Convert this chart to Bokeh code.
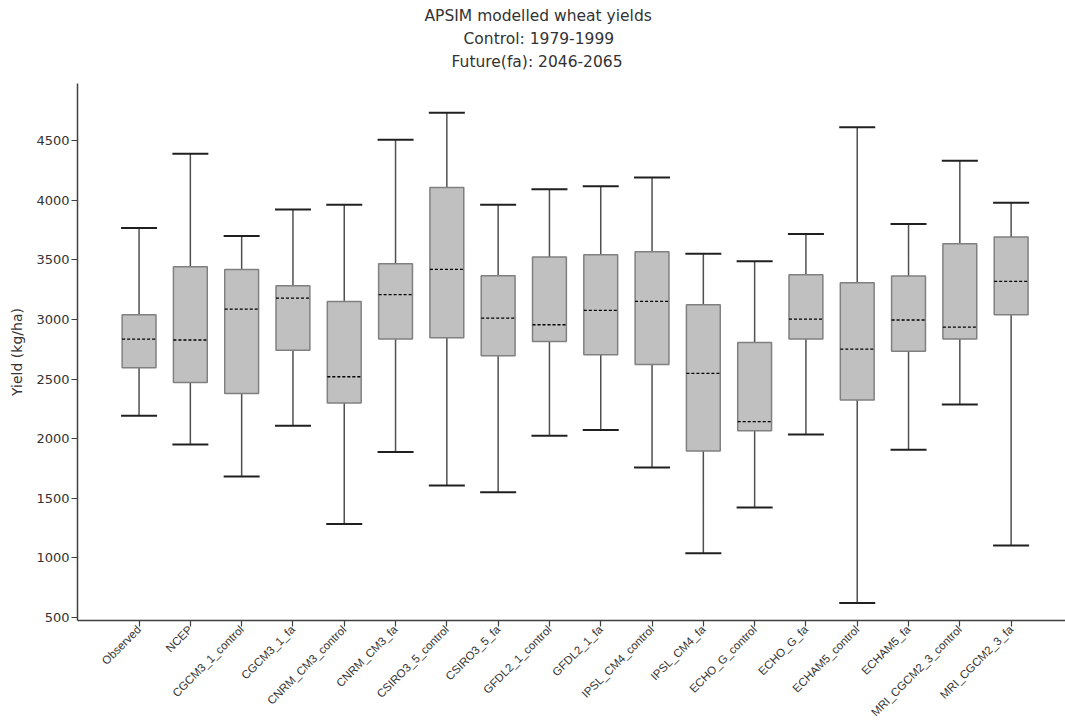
import math
from bokeh.plotting import figure
from bokeh.models import FixedTicker, Title, Range1d
from bokeh.embed import file_html
from bokeh.resources import INLINE

categories = ["Observed", "NCEP", "CGCM3_1_control", "CGCM3_1_fa", "CNRM_CM3_control",
              "CNRM_CM3_fa", "CSIRO3_5_control", "CSIRO3_5_fa", "GFDL2_1_control",
              "GFDL2_1_fa", "IPSL_CM4_control", "IPSL_CM4_fa", "ECHO_G_control",
              "ECHO_G_fa", "ECHAM5_control", "ECHAM5_fa", "MRI_CGCM2_3_control",
              "MRI_CGCM2_3_fa"]
maxs = [3768, 4391, 3700, 3924, 3963, 4508, 4735, 3963, 4092, 4117, 4192, 3552,
        3488, 3717, 4612, 3801, 4332, 3980]
q3s = [3040, 3443, 3420, 3284, 3152, 3468, 4108, 3367, 3524, 3544, 3569, 3124,
       2808, 3376, 3309, 3365, 3636, 3692]
medians = [2836, 2828, 3088, 3180, 2520, 3208, 3420, 3012, 2956, 3077, 3152, 2548,
           2143, 3004, 2752, 2996, 2937, 3320]
q1s = [2596, 2472, 2380, 2742, 2299, 2836, 2846, 2695, 2816, 2705, 2622, 1897,
       2067, 2836, 2325, 2733, 2836, 3040]
mins = [2193, 1952, 1684, 2109, 1284, 1888, 1608, 1550, 2025, 2073, 1759, 1039,
        1424, 2036, 622, 1908, 2288, 1105]
y_ticks = [500, 1000, 1500, 2000, 2500, 3000, 3500, 4000, 4500]
title_lines = ["APSIM modelled wheat yields", "Control: 1979-1999", "Future(fa): 2046-2065"]

xs = list(range(len(categories)))
box_w = 0.66
med_x0 = [v - box_w / 2 for v in xs]
med_x1 = [v + box_w / 2 for v in xs]

p = figure(width=1065, height=727, output_backend="svg", toolbar_location=None,
           x_range=Range1d(-1.2, 18.06), y_range=Range1d(475, 4980),
           min_border_left=77, min_border_right=0, min_border_top=83,
           min_border_bottom=107, title=title_lines[0])

# title lines: left-aligned with offsets so that each line is centred near x=538
title_font = "DejaVu Sans"
title_size = "15.5px"
title_offsets = [347, 386, 374]
title_standoff = 3
p.title.text_font = title_font
p.title.text_font_size = title_size
p.title.text_font_style = "normal"
p.title.text_color = "#333333"
p.title.align = "left"
p.title.offset = title_offsets[0]
p.title.standoff = title_standoff
# first added sits closest to the frame: a small spacer, then line 3, then line 2
p.add_layout(Title(text=" ", text_font_size="1px", standoff=8), "above")
p.add_layout(Title(text=title_lines[2], text_font=title_font, text_font_size=title_size,
                   text_font_style="normal", text_color="#333333", align="left",
                   offset=title_offsets[2], standoff=title_standoff), "above")
p.add_layout(Title(text=title_lines[1], text_font=title_font, text_font_size=title_size,
                   text_font_style="normal", text_color="#333333", align="left",
                   offset=title_offsets[1], standoff=title_standoff), "above")

# whiskers
p.segment(x0=xs, y0=q3s, x1=xs, y1=maxs, line_color="#505050", line_width=1.5)
p.segment(x0=xs, y0=q1s, x1=xs, y1=mins, line_color="#505050", line_width=1.5)
# boxes
p.vbar(x=xs, width=box_w, bottom=q1s, top=q3s, fill_color="#c0c0c0",
       line_color="#808080", line_width=1.5)
# medians
p.segment(x0=med_x0, y0=medians, x1=med_x1, y1=medians, line_color="#000000",
          line_width=1.3, line_dash="3 2")
# caps
p.dash(x=xs, y=maxs, size=36, line_color="#202020", line_width=2)
p.dash(x=xs, y=mins, size=36, line_color="#202020", line_width=2)

p.xgrid.visible = False
p.ygrid.visible = False
p.outline_line_color = None

# y axis
p.yaxis.ticker = FixedTicker(ticks=y_ticks)
p.yaxis.minor_tick_line_color = None
p.yaxis.major_tick_in = 0
p.yaxis.major_tick_out = 6
p.yaxis.axis_line_color = "#404040"
p.yaxis.axis_line_width = 1.5
p.yaxis.major_tick_line_color = "#404040"
p.yaxis.major_tick_line_width = 1.2
p.yaxis.major_label_text_font = "DejaVu Sans"
p.yaxis.major_label_text_font_size = "13px"
p.yaxis.major_label_text_color = "#333333"
p.yaxis.major_label_standoff = 2
p.yaxis.axis_label = "Yield (kg/ha)"
p.yaxis.axis_label_text_font = "DejaVu Sans"
p.yaxis.axis_label_text_font_size = "14px"
p.yaxis.axis_label_text_font_style = "normal"
p.yaxis.axis_label_text_color = "#333333"
p.yaxis.axis_label_standoff = 8

# x axis
p.xaxis.ticker = FixedTicker(ticks=xs)
p.xaxis.major_label_overrides = {i: c for i, c in enumerate(categories)}
p.xaxis.minor_tick_line_color = None
p.xaxis.major_tick_in = 0
p.xaxis.major_tick_out = 6
p.xaxis.axis_line_color = "#404040"
p.xaxis.axis_line_width = 1.5
p.xaxis.major_tick_line_color = "#404040"
p.xaxis.major_tick_line_width = 1.2
p.xaxis.major_label_orientation = math.pi / 4
p.xaxis.major_label_text_font = "Liberation Sans"
p.xaxis.major_label_text_font_size = "11.5px"
p.xaxis.major_label_text_color = "#333333"
p.xaxis.major_label_standoff = 1

open("out.html", "w").write(file_html(p, INLINE))
